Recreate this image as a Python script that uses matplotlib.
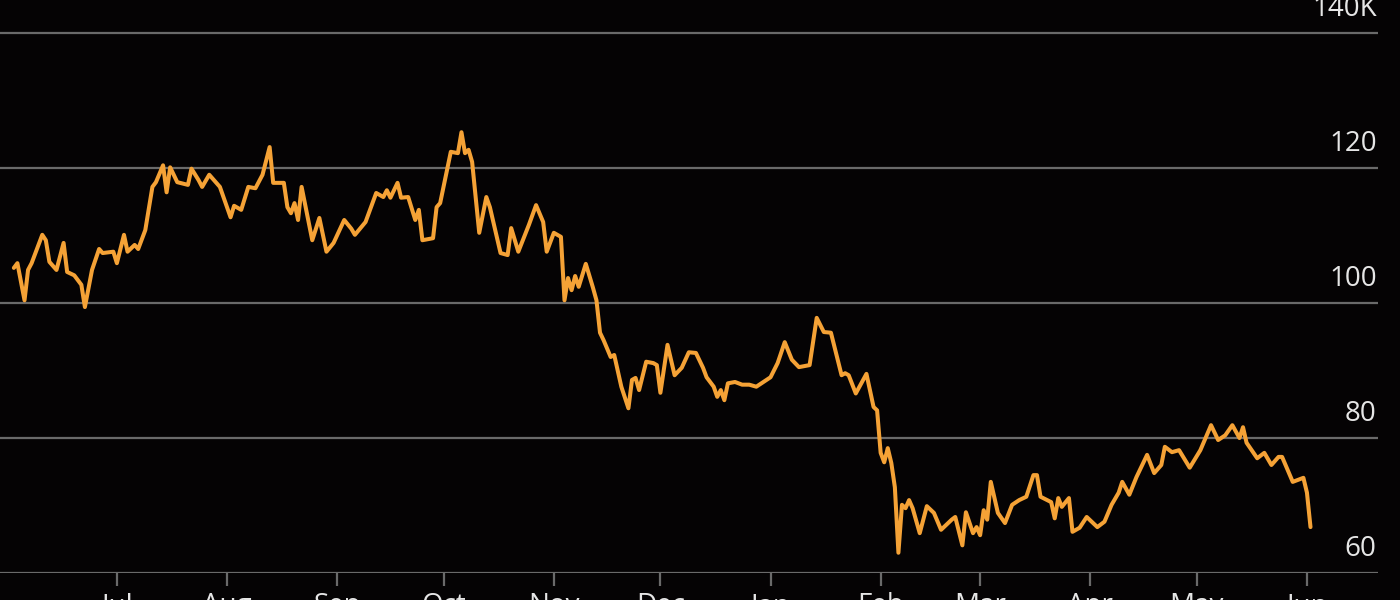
import numpy as np
import pandas as pd
import matplotlib
matplotlib.use("Agg")
from matplotlib import pyplot as plt
import matplotlib.dates as mdates

# valores (miles)
fechas = [
    "2022-06-02", "2022-06-03", "2022-06-05", "2022-06-06", "2022-06-07", "2022-06-10",
    "2022-06-11", "2022-06-12", "2022-06-14", "2022-06-16", "2022-06-17", "2022-06-19",
    "2022-06-21", "2022-06-22", "2022-06-24", "2022-06-26", "2022-06-27", "2022-06-30",
    "2022-07-01", "2022-07-03", "2022-07-04", "2022-07-06", "2022-07-07", "2022-07-09",
    "2022-07-11", "2022-07-12", "2022-07-14", "2022-07-15", "2022-07-16", "2022-07-18",
    "2022-07-21", "2022-07-22", "2022-07-24", "2022-07-25", "2022-07-27", "2022-07-30",
    "2022-08-02", "2022-08-03", "2022-08-05", "2022-08-07", "2022-08-09", "2022-08-11",
    "2022-08-13", "2022-08-14", "2022-08-17", "2022-08-18", "2022-08-19", "2022-08-20",
    "2022-08-21", "2022-08-22", "2022-08-25", "2022-08-27", "2022-08-29", "2022-08-31",
    "2022-09-03", "2022-09-05", "2022-09-06", "2022-09-09", "2022-09-12", "2022-09-14",
    "2022-09-15", "2022-09-16", "2022-09-18", "2022-09-19", "2022-09-21", "2022-09-23",
    "2022-09-24", "2022-09-25", "2022-09-28", "2022-09-29", "2022-09-30", "2022-10-03",
    "2022-10-05", "2022-10-06", "2022-10-07", "2022-10-08", "2022-10-09", "2022-10-11",
    "2022-10-13", "2022-10-14", "2022-10-17", "2022-10-19", "2022-10-20", "2022-10-22",
    "2022-10-25", "2022-10-27", "2022-10-29", "2022-10-30", "2022-11-01", "2022-11-03",
    "2022-11-04", "2022-11-05", "2022-11-06", "2022-11-07", "2022-11-08", "2022-11-10",
    "2022-11-12", "2022-11-13", "2022-11-14", "2022-11-15", "2022-11-17", "2022-11-18",
    "2022-11-20", "2022-11-22", "2022-11-23", "2022-11-24", "2022-11-25", "2022-11-27",
    "2022-11-29", "2022-11-30", "2022-12-01", "2022-12-03", "2022-12-05", "2022-12-07",
    "2022-12-09", "2022-12-11", "2022-12-13", "2022-12-14", "2022-12-16", "2022-12-17",
    "2022-12-18", "2022-12-19", "2022-12-20", "2022-12-22", "2022-12-24", "2022-12-26",
    "2022-12-28", "2022-12-30", "2023-01-01", "2023-01-03", "2023-01-05", "2023-01-07",
    "2023-01-09", "2023-01-12", "2023-01-14", "2023-01-16", "2023-01-18", "2023-01-21",
    "2023-01-22", "2023-01-23", "2023-01-25", "2023-01-28", "2023-01-30", "2023-01-31",
    "2023-02-01", "2023-02-02", "2023-02-03", "2023-02-04", "2023-02-05", "2023-02-06",
    "2023-02-07", "2023-02-08", "2023-02-09", "2023-02-10", "2023-02-12", "2023-02-14",
    "2023-02-16", "2023-02-18", "2023-02-21", "2023-02-22", "2023-02-24", "2023-02-25",
    "2023-02-27", "2023-02-28", "2023-03-01", "2023-03-02", "2023-03-03", "2023-03-04",
    "2023-03-06", "2023-03-08", "2023-03-10", "2023-03-12", "2023-03-14", "2023-03-16",
    "2023-03-17", "2023-03-18", "2023-03-21", "2023-03-22", "2023-03-23", "2023-03-24",
    "2023-03-26", "2023-03-27", "2023-03-29", "2023-03-31", "2023-04-03", "2023-04-05",
    "2023-04-07", "2023-04-09", "2023-04-10", "2023-04-12", "2023-04-14", "2023-04-17",
    "2023-04-19", "2023-04-21", "2023-04-22", "2023-04-24", "2023-04-26", "2023-04-29",
    "2023-05-02", "2023-05-05", "2023-05-07", "2023-05-09", "2023-05-11", "2023-05-13",
    "2023-05-14", "2023-05-15", "2023-05-18", "2023-05-20", "2023-05-22", "2023-05-24",
    "2023-05-25", "2023-05-28", "2023-05-31", "2023-06-01", "2023-06-02",
]
valores = [
    105.2, 105.9, 100.4, 104.9, 105.9, 110.1,
    109.3, 106.1, 104.9, 108.9, 104.6, 104.1,
    102.7, 99.4, 104.9, 108.0, 107.4, 107.6,
    105.9, 110.1, 107.6, 108.6, 108.0, 110.8,
    117.2, 117.9, 120.4, 116.4, 120.1, 117.9,
    117.5, 119.9, 118.2, 117.2, 119.0, 117.2,
    112.7, 114.4, 113.8, 117.2, 117.0, 119.0,
    123.1, 117.8, 117.8, 114.2, 113.3, 114.8,
    112.3, 117.2, 109.3, 112.6, 107.6, 108.9,
    112.3, 111.0, 110.1, 112.0, 116.3, 115.7,
    116.7, 115.6, 117.8, 115.6, 115.7, 112.3,
    113.8, 109.3, 109.6, 114.2, 114.8, 122.4,
    122.2, 125.3, 122.2, 122.7, 120.9, 110.4,
    115.7, 114.2, 107.4, 107.1, 111.1, 107.6,
    111.6, 114.5, 112.0, 107.6, 110.4, 109.8,
    100.4, 103.7, 101.9, 104.0, 102.4, 105.8,
    102.3, 100.4, 95.6, 94.5, 92.0, 92.3,
    87.6, 84.4, 88.6, 88.9, 87.1, 91.3,
    91.1, 90.8, 86.7, 93.8, 89.3, 90.4,
    92.7, 92.6, 90.4, 89.0, 87.6, 86.1,
    87.1, 85.6, 88.1, 88.3, 87.9, 87.9,
    87.6, 88.3, 89.0, 91.1, 94.2, 91.6,
    90.5, 90.8, 97.8, 95.7, 95.6, 89.3,
    89.6, 89.3, 86.6, 89.5, 84.6, 84.1,
    77.8, 76.4, 78.5, 76.3, 72.7, 63.0,
    70.1, 69.6, 70.8, 69.6, 65.9, 69.9,
    68.9, 66.4, 67.9, 68.3, 64.1, 69.0,
    65.9, 66.8, 65.6, 69.3, 67.9, 73.5,
    68.9, 67.4, 70.1, 70.8, 71.3, 74.5,
    74.5, 71.3, 70.5, 68.1, 71.1, 69.8,
    71.1, 66.1, 66.7, 68.3, 66.8, 67.6,
    70.1, 71.9, 73.5, 71.6, 74.2, 77.5,
    74.8, 76.0, 78.7, 77.9, 78.2, 75.6,
    78.2, 81.9, 79.7, 80.4, 81.9, 80.0,
    81.6, 79.3, 77.0, 77.8, 76.0, 77.2,
    77.2, 73.5, 74.1, 71.9, 66.8,
]
ticks_y = [60, 80, 100, 120, 140]
etiquetas_y = ["60", "80", "100", "120", "140K"]
meses = pd.date_range("2022-07-01", "2023-06-01", freq="MS")

fechas = pd.to_datetime(fechas)

fondo = "#050304"
naranja = "#f5a236"
gris = "#6a6a6a"
texto = "#e6e6e6"

fig = plt.figure(figsize=(14, 6), dpi=100)
fig.patch.set_facecolor(fondo)
ax = fig.add_axes([0.0, 27 / 600, 1378 / 1400, 573 / 600])
ax.set_facecolor(fondo)

ax.plot(fechas, valores, color=naranja, lw=2.9, solid_joinstyle="round",
        solid_capstyle="round", zorder=3)

# limites
inicio = pd.Timestamp("2022-07-01")
ax.set_xlim(inicio - pd.Timedelta(days=32.9), inicio + pd.Timedelta(days=355))
ax.set_ylim(60, 60 + 573 / 6.75)

# rejilla horizontal
for v in ticks_y:
    ax.axhline(v, color=gris, lw=1.6, zorder=1)

for s in ax.spines.values():
    s.set_visible(False)

ax.set_yticks([])
ax.set_xticks(meses)
ax.xaxis.set_major_formatter(mdates.DateFormatter("%b"))
ax.tick_params(axis="x", colors=gris, length=9, width=1.6, pad=5,
               labelcolor=texto, labelsize=20)
for lbl in ax.get_xticklabels():
    lbl.set_fontfamily("Open Sans")

# etiquetas del eje y dentro del grafico
for v, t in zip(ticks_y, etiquetas_y):
    ax.annotate(t, xy=(1, v), xycoords=ax.get_yaxis_transform(),
                xytext=(-1, 7), textcoords="offset points",
                ha="right", va="bottom", color=texto, fontsize=20,
                family="Open Sans", annotation_clip=False)

fig.savefig("out.png", dpi=100, facecolor=fondo)
